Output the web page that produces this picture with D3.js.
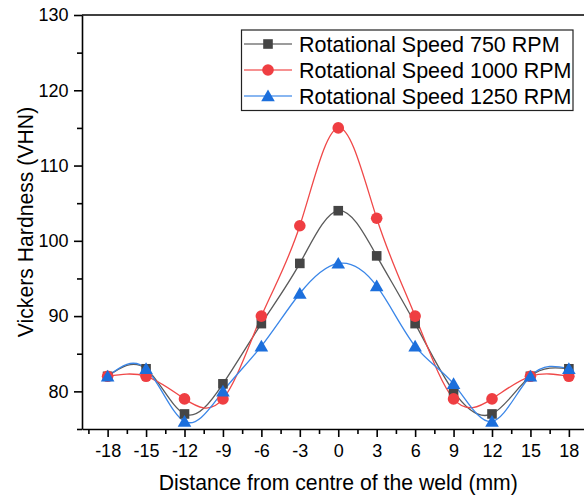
<!DOCTYPE html>
<html>
<head>
<meta charset="utf-8">
<script src="https://cdn.jsdelivr.net/npm/d3@7"></script>
<style>
  html, body { margin: 0; padding: 0; background: #fff; }
  svg { display: block; font-family: "Liberation Sans", Arial, sans-serif; }
</style>
</head>
<body>
<svg id="chart" width="584" height="496"></svg>
<script>
// Hardness profile across the weld, three rotational speeds
const positions = [-18, -15, -12, -9, -6, -3, 0, 3, 6, 9, 12, 15, 18];
const hardness750  = [82, 83, 77, 81, 89, 97, 104, 98, 89, 80, 77, 82, 83];
const hardness1000 = [82, 82, 79, 79, 90, 102, 115, 103, 90, 79, 79, 82, 82];
const hardness1250 = [82, 83, 76, 80, 86, 93, 97, 94, 86, 81, 76, 82, 83];
const seriesNames = ["Rotational Speed 750 RPM", "Rotational Speed 1000 RPM", "Rotational Speed 1250 RPM"];
const xTicks = [-18, -15, -12, -9, -6, -3, 0, 3, 6, 9, 12, 15, 18];
const yTicks = [80, 90, 100, 110, 120, 130];

const series = [
  { name: seriesNames[0], values: hardness750,  line: "#5a5a5a", fill: "#454545", shape: "square" },
  { name: seriesNames[1], values: hardness1000, line: "#f04848", fill: "#ef3e42", shape: "circle" },
  { name: seriesNames[2], values: hardness1250, line: "#3a86e8", fill: "#1c6fdc", shape: "triangle" }
];

const svg = d3.select("#chart");
const plot = { left: 82, right: 594.5, top: 15, bottom: 429 };

const x = d3.scaleLinear().domain([-20, 20]).range([plot.left, plot.right]);
const y = d3.scaleLinear().domain([75, 130]).range([plot.bottom, plot.top]);

// minor ticks
const xMinor = d3.range(-19.5, 20, 1.5).filter(v => !xTicks.includes(v));
const yMinor = d3.range(75, 130, 5).filter(v => !yTicks.includes(v));

const axisStroke = 1.6;

svg.append("g")
  .attr("transform", `translate(0,${plot.bottom})`)
  .call(d3.axisBottom(x).tickValues(xMinor).tickSize(5).tickSizeOuter(0).tickFormat(""))
  .call(g => g.select(".domain").remove())
  .call(g => g.selectAll("line").attr("stroke", "#000").attr("stroke-width", axisStroke));

svg.append("g")
  .attr("transform", `translate(${plot.left},0)`)
  .call(d3.axisLeft(y).tickValues(yMinor).tickSize(5).tickSizeOuter(0).tickFormat(""))
  .call(g => g.select(".domain").remove())
  .call(g => g.selectAll("line").attr("stroke", "#000").attr("stroke-width", axisStroke));

const xAxis = svg.append("g")
  .attr("transform", `translate(0,${plot.bottom})`)
  .call(d3.axisBottom(x).tickValues(xTicks).tickSize(8).tickSizeOuter(0).tickPadding(7).tickFormat(d => String(d)));
xAxis.selectAll("text").attr("font-size", 18).attr("fill", "#000").attr("font-family", "Liberation Sans, Arial, sans-serif");

const yAxis = svg.append("g")
  .attr("transform", `translate(${plot.left},0)`)
  .call(d3.axisLeft(y).tickValues(yTicks).tickSize(8).tickSizeOuter(0).tickPadding(5.5).tickFormat(d => String(d)));
yAxis.selectAll("text").attr("font-size", 18).attr("fill", "#000").attr("font-family", "Liberation Sans, Arial, sans-serif");

[xAxis, yAxis].forEach(g => {
  g.select(".domain").attr("stroke", "#000").attr("stroke-width", axisStroke);
  g.selectAll(".tick line").attr("stroke", "#000").attr("stroke-width", axisStroke);
});

// top frame line
svg.append("line")
  .attr("x1", plot.left).attr("x2", plot.right)
  .attr("y1", plot.top).attr("y2", plot.top)
  .attr("stroke", "#000").attr("stroke-width", axisStroke);

// axis titles
svg.append("text")
  .attr("x", (plot.left + plot.right) / 2)
  .attr("y", 490)
  .attr("text-anchor", "middle")
  .attr("font-size", 21.2)
  .attr("fill", "#000")
  .text("Distance from centre of the weld (mm)");

svg.append("text")
  .attr("transform", `translate(33,${(plot.top + plot.bottom) / 2}) rotate(-90)`)
  .attr("text-anchor", "middle")
  .attr("font-size", 21.2)
  .attr("fill", "#000")
  .text("Vickers Hardness (VHN)");

// marker drawing
function drawMarker(sel, shape, fill) {
  if (shape === "square") {
    sel.append("rect").attr("x", -4.8).attr("y", -4.8).attr("width", 9.6).attr("height", 9.6).attr("fill", fill);
  } else if (shape === "circle") {
    sel.append("circle").attr("r", 5.8).attr("fill", fill);
  } else {
    sel.append("path").attr("d", "M0,-6.5L6.8,5.2L-6.8,5.2Z").attr("fill", fill);
  }
}

const line = d3.line()
  .x((d, i) => x(positions[i]))
  .y(d => y(d))
  .curve(d3.curveNatural);

const plotG = svg.append("g");
series.forEach(s => {
  plotG.append("path")
    .datum(s.values)
    .attr("d", line)
    .attr("fill", "none")
    .attr("stroke", s.line)
    .attr("stroke-width", 1.3);
});
series.forEach(s => {
  plotG.selectAll(null)
    .data(s.values)
    .join("g")
    .attr("transform", (d, i) => `translate(${x(positions[i])},${y(d)})`)
    .each(function () { drawMarker(d3.select(this), s.shape, s.fill); });
});

// legend
const legend = svg.append("g");
legend.append("rect")
  .attr("x", 241.5).attr("y", 30)
  .attr("width", 331.5).attr("height", 80.5)
  .attr("fill", "#fff")
  .attr("stroke", "#222")
  .attr("stroke-width", 1.2);

series.forEach((s, i) => {
  const cy = 44 + i * 26;
  const row = legend.append("g");
  row.append("line")
    .attr("x1", 244).attr("x2", 292)
    .attr("y1", cy).attr("y2", cy)
    .attr("stroke", s.line).attr("stroke-width", 1.3)
    .attr("stroke-opacity", 0.8);
  drawMarker(row.append("g").attr("transform", `translate(268,${cy})`), s.shape, s.fill);
  row.append("text")
    .attr("x", 299)
    .attr("y", cy + 7.6)
    .attr("font-size", 21.5)
    .attr("fill", "#000")
    .text(s.name);
});
</script>
</body>
</html>
